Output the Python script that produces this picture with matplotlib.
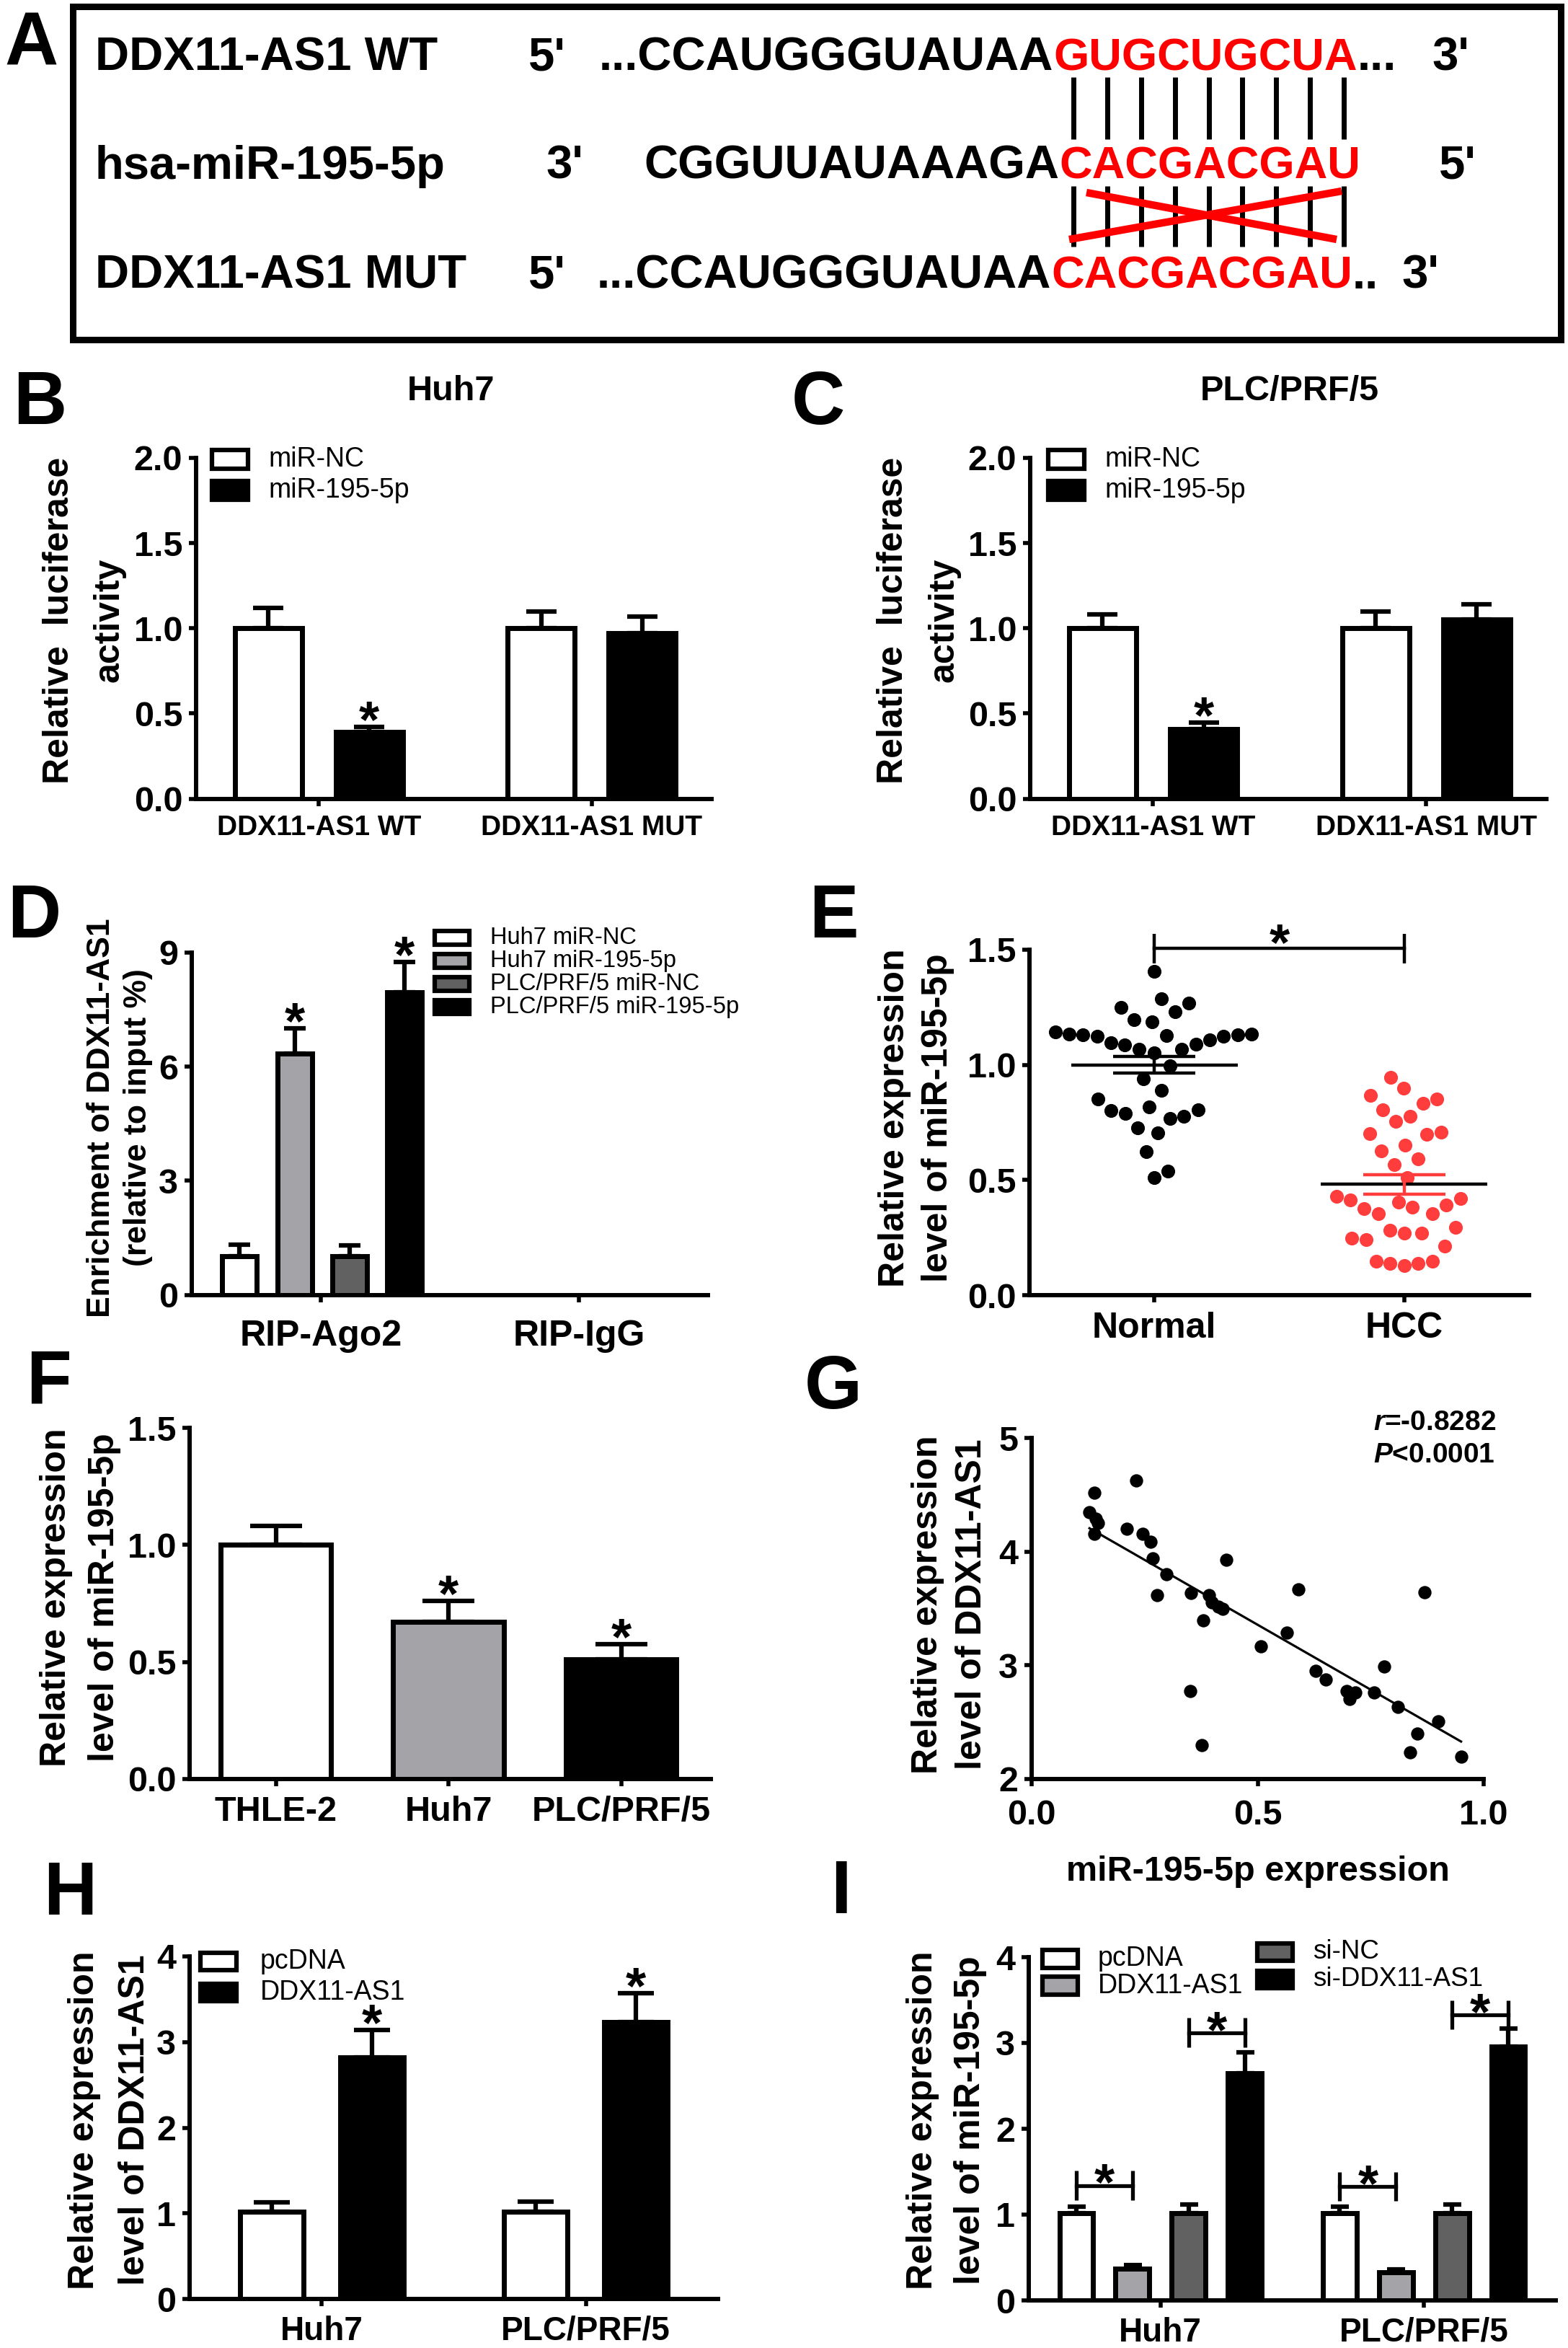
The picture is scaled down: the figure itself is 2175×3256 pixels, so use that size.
import numpy as np
import matplotlib
matplotlib.use("Agg")
import matplotlib.pyplot as plt
from matplotlib.patches import Rectangle

plt.rcParams['font.family'] = ['Liberation Sans', 'DejaVu Sans']
plt.rcParams['font.weight'] = 'bold'
plt.rcParams['mathtext.fontset'] = 'custom'
plt.rcParams['mathtext.it'] = 'Liberation Sans:italic:bold'
plt.rcParams['mathtext.rm'] = 'Liberation Sans:bold'
plt.rcParams['axes.linewidth'] = 4.3
for a in ('xtick', 'ytick'):
    plt.rcParams[a + '.major.width'] = 4.0
    plt.rcParams[a + '.major.size'] = 7.5
    plt.rcParams[a + '.labelsize'] = 35
plt.rcParams['xtick.major.pad'] = 9
plt.rcParams['ytick.major.pad'] = 6

W, H = 2175, 3256
DPI = 100
RED = '#ff0000'
DOT_RED = '#ff3d3d'
LGRAY = '#a4a4a8'
DGRAY = '#616161'

# ---------------- data ----------------
# A: sequence alignment
seq_names = ['DDX11-AS1 WT', 'hsa-miR-195-5p', 'DDX11-AS1 MUT']
seq_left_end = ["5'", "3'", "5'"]
seq_black = ['...CCAUGGGUAUAA', 'CGGUUAUAAAGA', '...CCAUGGGUAUAA']
seq_red = ['GUGCUGCUA', 'CACGACGAU', 'CACGACGAU']
seq_tail = ['...', '', '..']
seq_right_end = ["3'", "5'", "3'"]

# B / C: luciferase
luc_groups = ['DDX11-AS1 WT', 'DDX11-AS1 MUT']
luc_series = ['miR-NC', 'miR-195-5p']
huh7_luc = [[1.00, 1.00], [0.39, 0.97]]
huh7_luc_err = [[0.12, 0.10], [0.03, 0.10]]
plc_luc = [[1.00, 1.00], [0.41, 1.05]]
plc_luc_err = [[0.08, 0.10], [0.035, 0.09]]
luc_sig = [[False, False], [True, False]]

# D: RIP
rip_groups = ['RIP-Ago2', 'RIP-IgG']
rip_series = ['Huh7 miR-NC', 'Huh7 miR-195-5p', 'PLC/PRF/5 miR-NC', 'PLC/PRF/5 miR-195-5p']
rip_vals = [[1.02, 0.0], [6.35, 0.0], [1.02, 0.0], [7.95, 0.0]]
rip_err = [[0.30, 0.0], [0.66, 0.0], [0.28, 0.0], [0.80, 0.0]]
rip_sig = [[False, False], [True, False], [False, False], [True, False]]

# E: tissues
tissue_groups = ['Normal', 'HCC']
normal = [1.405, 1.268, 1.286, 1.249, 1.232, 1.187, 1.196,
          1.134, 1.131, 1.128, 1.125, 1.097, 1.086, 1.069, 1.053, 1.069, 1.090,
          1.110, 1.125, 1.131, 1.134, 1.142,
          0.997, 0.941, 0.890, 0.851, 0.817, 0.801, 0.778, 0.767, 0.789, 0.804,
          0.728, 0.706, 0.622, 0.540, 0.510]
hcc = [0.946, 0.898, 0.868, 0.834, 0.851, 0.806, 0.778, 0.756, 0.708, 0.697,
       0.702, 0.627, 0.652, 0.591, 0.566, 0.510,
       0.428, 0.414, 0.392, 0.375, 0.353, 0.353, 0.381, 0.403, 0.420,
       0.293, 0.269, 0.246, 0.241, 0.269, 0.282, 0.213,
       0.146, 0.137, 0.129, 0.137, 0.146]

# F: cell lines
cells = ['THLE-2', 'Huh7', 'PLC/PRF/5']
cell_mir = [1.00, 0.67, 0.51]
cell_mir_err = [0.08, 0.09, 0.065]
cell_sig = [False, True, True]

# G: correlation
g_x = [0.138, 0.128, 0.142, 0.147, 0.138, 0.232, 0.211, 0.245, 0.263, 0.268,
       0.298, 0.278, 0.353, 0.392, 0.399, 0.413, 0.423, 0.379, 0.431, 0.507,
       0.564, 0.590, 0.351, 0.376, 0.628, 0.651, 0.697, 0.704, 0.716, 0.757,
       0.780, 0.810, 0.869, 0.853, 0.899, 0.838, 0.950]
g_y = [4.517, 4.349, 4.292, 4.254, 4.159, 4.625, 4.204, 4.154, 4.084, 3.941,
       3.803, 3.615, 3.635, 3.615, 3.553, 3.515, 3.495, 3.397, 3.928, 3.165,
       3.290, 3.665, 2.771, 2.301, 2.952, 2.877, 2.776, 2.701, 2.764, 2.759,
       2.989, 2.634, 3.640, 2.401, 2.506, 2.233, 2.195]
g_stats = ['$\\mathit{r}$=-0.8282', '$\\mathit{P}$<0.0001']

# H: overexpression
ov_groups = ['Huh7', 'PLC/PRF/5']
ov_series = ['pcDNA', 'DDX11-AS1']
ov_vals = [[1.02, 1.02], [2.82, 3.23]]
ov_err = [[0.11, 0.12], [0.32, 0.34]]
ov_sig = [[False, False], [True, True]]

# I: miR-195-5p after DDX11-AS1 change
mi_series = ['pcDNA', 'DDX11-AS1', 'si-NC', 'si-DDX11-AS1']
mi_vals = [[1.02, 1.02], [0.37, 0.33], [1.02, 1.02], [2.65, 2.96]]
mi_err = [[0.07, 0.07], [0.04, 0.035], [0.10, 0.10], [0.24, 0.21]]
mi_pairs = [(0, 0, 1, 1.34), (0, 2, 3, 3.12), (1, 0, 1, 1.33), (1, 2, 3, 3.33)]

# ---------------- figure ----------------
fig = plt.figure(figsize=(W / DPI, H / DPI), dpi=DPI)
ov = fig.add_axes([0, 0, 1, 1], zorder=10)
ov.set_xlim(0, W)
ov.set_ylim(H, 0)
ov.axis('off')


def px_axes(l, t, r, b):
    ax = fig.add_axes([l / W, 1 - b / H, (r - l) / W, (b - t) / H])
    ax.spines['top'].set_visible(False)
    ax.spines['right'].set_visible(False)
    ax.patch.set_alpha(0)
    return ax


def bars(ax, vals, errs, colors, offsets, width, capsize):
    x = np.arange(len(vals[0]))
    for v, e, c, off in zip(vals, errs, colors, offsets):
        v = np.asarray(v, float)
        e = np.asarray(e, float)
        keep = v > 0
        xs = x[keep] + off
        ax.bar(xs, v[keep], width, color=c, edgecolor='k', linewidth=5, zorder=3)
        ax.errorbar(xs, v[keep], yerr=[np.zeros(keep.sum()), e[keep]], fmt='none',
                    ecolor='k', elinewidth=4.5, capsize=capsize, capthick=4.5, zorder=2)
    return x


def star(ax, x, y, fs=52):
    ax.annotate('*', (x, y), xytext=(0, -10), textcoords='offset points',
                ha='center', va='baseline', fontsize=fs, annotation_clip=False)


def star_bars(ax, vals, errs, sig, offsets):
    for v, e, s, off in zip(vals, errs, sig, offsets):
        for g in range(len(v)):
            if s[g]:
                star(ax, g + off, v[g] + e[g])


def ylab(lines, xs, yc, fs=36):
    for txt, x in zip(lines, xs):
        ov.text(x, yc, txt, rotation=90, rotation_mode='anchor', ha='center',
                va='baseline', fontsize=fs)


def legend(labels, colors, x, ys, w, h, tx, fs):
    for lab, c, y in zip(labels, colors, ys):
        ov.add_patch(Rectangle((x + 3, y + 3), w - 6, h - 6, facecolor=c,
                               edgecolor='k', lw=4.5))
        ov.text(tx, y + h / 2, lab, fontsize=fs, fontweight='normal', va='center')


def swarm(vals, sx, sy, d):
    order = np.argsort(vals)
    placed = []
    offs = np.zeros(len(vals))
    for i in order:
        y = vals[i] * sy
        cands = [0.0]
        for px, py in placed:
            dy = y - py
            if abs(dy) < d:
                dx = np.sqrt(d * d - dy * dy)
                cands += [px + dx, px - dx]
        for c in sorted(cands, key=abs):
            if all((c - px) ** 2 + (y - py) ** 2 >= d * d - 1e-6 for px, py in placed):
                offs[i] = c
                placed.append((c, y))
                break
    return offs / sx


# ---- panel letters ----
for letter, x, y in [('A', 6, 90), ('B', 18, 588), ('C', 1098, 588), ('D', 10, 1300),
                     ('E', 1122, 1300), ('F', 36, 1945), ('G', 1116, 1953),
                     ('H', 60, 2655), ('I', 1152, 2653)]:
    ov.text(x, y, letter, fontsize=74, va='baseline', ha='left')

# ---- A ----
ov.add_patch(Rectangle((101, 8.5), 2064, 462.5, fill=False, lw=6.5, edgecolor='k'))
row_y = [97, 248, 400]
left_end_x = [733, 757, 733]
red_x = [1461, 1469, 1458]
right_end_x = [1986, 1996, 1944]
for i in range(3):
    kw = dict(fontsize=47, va='baseline')
    ov.text(132, row_y[i], seq_names[i], **kw)
    ov.text(left_end_x[i], row_y[i], seq_left_end[i], **kw)
    ov.text(red_x[i], row_y[i], seq_black[i], ha='right', **kw)
    rt = ov.text(red_x[i], row_y[i], seq_red[i], ha='left', color=RED,
                 fontsize=45.5, va='baseline')
    if seq_tail[i]:
        ov.annotate(seq_tail[i], xy=(1, 0), xycoords=rt, ha='left', va='bottom', fontsize=47)
    ov.text(right_end_x[i], row_y[i], seq_right_end[i], **kw)
pair_x = np.linspace(1489, 1864, 9)
ov.vlines(pair_x, 107, 193, color='k', lw=5)
ov.vlines(pair_x, 258, 342, color='k', lw=5)
ov.plot([1483, 1861], [332, 265], color=RED, lw=7.5, solid_capstyle='butt')
ov.plot([1507, 1854], [267, 332], color=RED, lw=7.5, solid_capstyle='butt')

# ---- B / C ----
for (l, r), vals, errs, title, tx, leg_x, ylx in [
        ((272, 987), huh7_luc, huh7_luc_err, 'Huh7', 626, 291, (95, 165)),
        ((1429, 2145), plc_luc, plc_luc_err, 'PLC/PRF/5', 1789, 1451, (1252, 1322))]:
    ax = px_axes(l, 635, r, 1107.5)
    offs = [-0.185, 0.185]
    x = bars(ax, vals, errs, ['white', 'black'], offs, 0.245, 15)
    star_bars(ax, vals, errs, luc_sig, offs)
    ax.set_xlim(-0.45, 1.44)
    ax.set_ylim(0, 2)
    ax.set_yticks(np.arange(0, 2.01, 0.5))
    ax.yaxis.set_major_formatter('{x:.1f}')
    ax.set_xticks(x, luc_groups)
    ax.tick_params(axis='x', labelsize=28)
    ov.text(tx, 555, title, fontsize=35, ha='center', va='baseline')
    legend(luc_series, ['white', 'black'], leg_x, [621, 664], 56, 32, leg_x + 81, 27)
    ylab(['Relative  luciferase', 'activity'], ylx, 860)

# ---- D ----
ax = px_axes(266, 1321, 982, 1795.5)
offs = [(i - 1.5) * 0.213 + 0.005 for i in range(4)]
d_colors = ['white', LGRAY, DGRAY, 'black']
x = bars(ax, rip_vals, rip_err, d_colors, offs, 0.134, 11)
star_bars(ax, rip_vals, rip_err, rip_sig, offs)
ax.set_xlim(-0.5, 1.5)
ax.set_ylim(0, 9)
ax.set_yticks([0, 3, 6, 9])
ax.set_xticks(x, rip_groups)
ax.tick_params(axis='x', labelsize=36, pad=17)
legend(rip_series, d_colors, 600, [1288, 1320, 1352, 1384], 54, 25, 680, 23.5)
ylab(['Enrichment of DDX11-AS1', '(relative to input %)'], (152, 203), 1550, fs=32)

# ---- E ----
ax = px_axes(1428, 1317, 2121, 1796)
for i, (vals, c) in enumerate([(normal, 'k'), (hcc, DOT_RED)]):
    v = np.array(vals)
    xo = swarm(v, 346.5, 319.0 * 0.45, 19.5)
    ax.scatter(i + xo, v, s=190, color=c, linewidths=0, zorder=3, clip_on=False)
    m = v.mean()
    sem = v.std(ddof=1) / np.sqrt(len(v))
    ax.hlines(m, i - 0.333, i + 0.333, color='k', lw=3.2, zorder=4)
    ax.errorbar(i, m, yerr=sem, fmt='none', ecolor=c, elinewidth=3.2, capsize=41,
                capthick=3.2, zorder=4)
ax.plot([0, 1], [1.506, 1.506], color='k', lw=3.2, clip_on=False)
ax.vlines([0, 1], 1.44, 1.57, color='k', lw=3.2, clip_on=False)
star(ax, 0.5, 1.50)
ax.set_xlim(-0.5, 1.5)
ax.set_ylim(0, 1.5)
ax.set_yticks(np.arange(0, 1.51, 0.5))
ax.yaxis.set_major_formatter('{x:.1f}')
ax.set_xticks([0, 1], tissue_groups)
ax.tick_params(axis='x', labelsize=36)
ylab(['Relative expression', 'level of miR-195-5p'], (1254, 1314), 1550)

# ---- F ----
ax = px_axes(263, 1980, 986, 2467)
xf = np.arange(len(cells))
ax.bar(xf, cell_mir, 0.64, color=['white', LGRAY, 'black'], edgecolor='k', linewidth=5, zorder=3)
ax.errorbar(xf, cell_mir, yerr=[np.zeros(len(cells)), cell_mir_err], fmt='none', ecolor='k',
            elinewidth=4.5, capsize=26, capthick=4.5, zorder=2)
for i in range(len(cells)):
    if cell_sig[i]:
        star(ax, xf[i], cell_mir[i] + cell_mir_err[i])
ax.set_xlim(-0.5, 2.52)
ax.set_ylim(0, 1.5)
ax.set_yticks(np.arange(0, 1.51, 0.5))
ax.yaxis.set_major_formatter('{x:.1f}')
ax.set_xticks(xf, cells)
ax.tick_params(axis='x', labelsize=35)
ylab(['Relative expression', 'level of miR-195-5p'], (91, 158), 2215)

# ---- G ----
ax = px_axes(1431, 1994, 2058, 2467)
ax.scatter(g_x, g_y, s=175, color='k', linewidths=0, zorder=3, clip_on=False)
k, b0 = np.polyfit(g_x, g_y, 1)
xx = np.array([min(g_x), max(g_x)])
ax.plot(xx, k * xx + b0, color='k', lw=2.3)
ax.set_xlim(0, 1)
ax.set_ylim(2, 5)
ax.set_xticks([0, 0.5, 1.0])
ax.xaxis.set_major_formatter('{x:.1f}')
ax.set_yticks([2, 3, 4, 5])
ax.tick_params(axis='x', pad=13)
ov.text(1905, 1983, g_stats[0], fontsize=28, va='baseline')
ov.text(1905, 2028, g_stats[1], fontsize=28, va='baseline')
ov.text(1745, 2608, 'miR-195-5p expression', fontsize=35, ha='center', va='baseline')
ylab(['Relative expression', 'level of DDX11-AS1'], (1300, 1361), 2225)

# ---- H ----
ax = px_axes(263, 2713, 996, 3188)
offs = [-0.19, 0.19]
x = bars(ax, ov_vals, ov_err, ['white', 'black'], offs, 0.24, 18)
star_bars(ax, ov_vals, ov_err, ov_sig, offs)
ax.set_xlim(-0.5, 1.5)
ax.set_ylim(0, 4)
ax.set_yticks(range(5))
ax.set_xticks(x, ov_groups)
ax.tick_params(axis='x', labelsize=33)
legend(ov_series, ['white', 'black'], 275, [2705, 2748], 56, 30, 361, 27)
ylab(['Relative expression', 'level of DDX11-AS1'], (130, 200), 2940)

# ---- I ----
ax = px_axes(1427, 2714, 2158, 3190)
offs = [(i - 1.5) * 0.213 for i in range(4)]
i_colors = ['white', LGRAY, DGRAY, 'black']
x = bars(ax, mi_vals, mi_err, i_colors, offs, 0.128, 9)
for g, s1, s2, y in mi_pairs:
    x1, x2 = g + offs[s1], g + offs[s2]
    ax.plot([x1, x2], [y, y], color='k', lw=3.8, clip_on=False)
    ax.vlines([x1, x2], y - 0.17, y + 0.17, color='k', lw=3.8, clip_on=False)
    star(ax, (x1 + x2) / 2, y - 0.05)
ax.set_xlim(-0.5, 1.5)
ax.set_ylim(0, 4)
ax.set_yticks(range(5))
ax.set_xticks(x, ov_groups)
ax.tick_params(axis='x', labelsize=33)
legend(mi_series[:2], i_colors[:2], 1443, [2701, 2738], 55, 31, 1523, 27)
legend(mi_series[2:], i_colors[2:], 1741, [2692, 2730], 55, 30, 1821, 26.5)
ylab(['Relative expression', 'level of miR-195-5p'], (1293, 1359), 2940)

fig.savefig('out.png', dpi=DPI)
